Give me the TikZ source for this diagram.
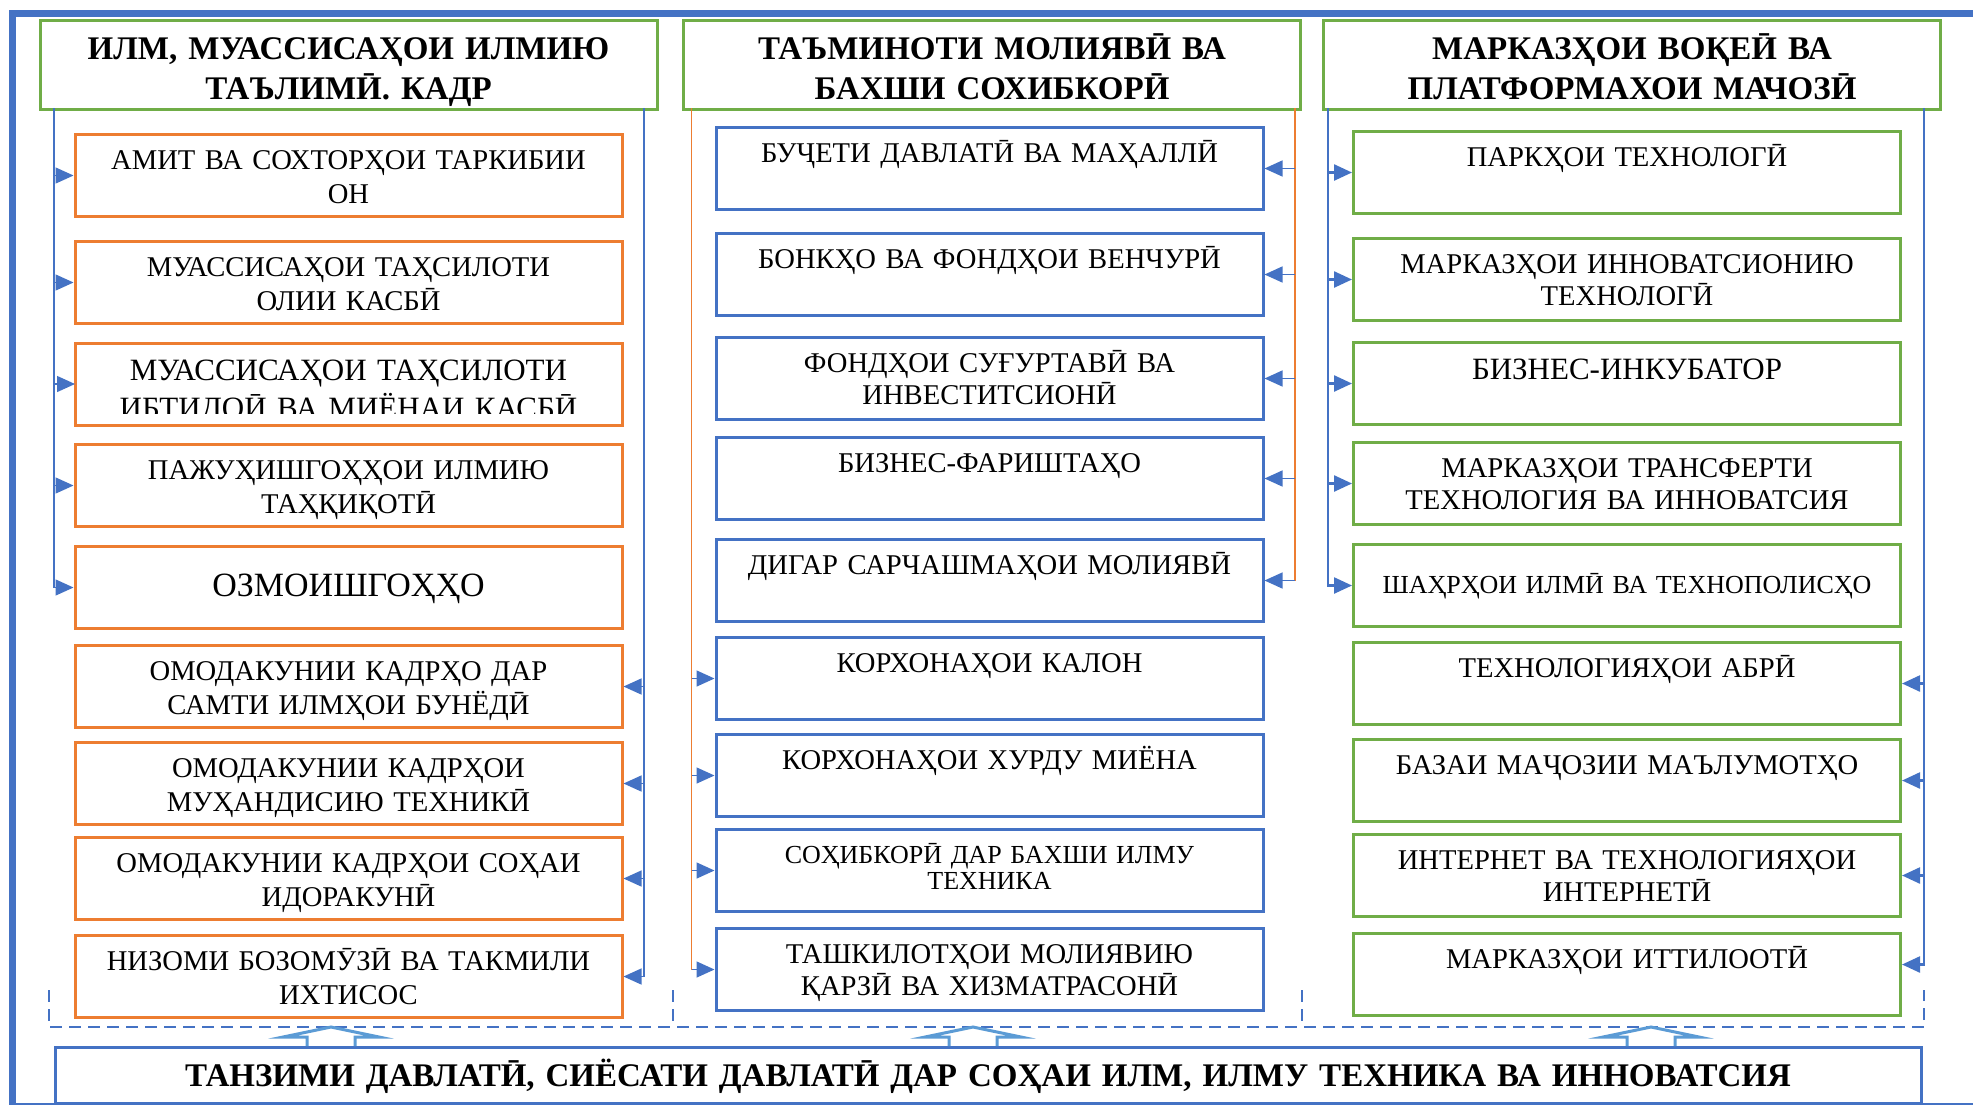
\documentclass[tikz,border=0pt]{standalone}
\usepackage{fontspec}
\setmainfont{Liberation Serif}
\usetikzlibrary{arrows.meta}
\definecolor{cellorange}{HTML}{ED7D31}
\definecolor{cellgreen}{HTML}{70AD47}
\definecolor{cellblue}{HTML}{4472C4}
\definecolor{arrowblue}{HTML}{5B9BD5}
\begin{document}
\begin{tikzpicture}
[x=0.5pt, y=-0.5pt,
cell/.style={draw, line width=1.5pt, text width=273.5pt, align=center, inner sep=0pt, anchor=north, text height=17.5pt, text depth=23.5pt, font=\fontsize{14.3pt}{16pt}\selectfont},
lcell/.style={cell, draw=cellorange, font=\fontsize{14.3pt}{17pt}\selectfont},
mcell/.style={cell, draw=cellblue},
rcell/.style={cell, draw=cellgreen},
head/.style={draw=cellgreen, line width=1.5pt, text width=308.5pt, align=center, inner sep=0pt, anchor=north, text height=19.5pt, text depth=25pt, font=\bfseries\fontsize{16.5pt}{20pt}\selectfont},
thinarr/.style={cellblue, line width=0.7pt, -{Triangle[length=9pt,width=8pt]}},
thickarr/.style={cellblue, line width=1.2pt, -{Triangle[length=9pt,width=8pt]}},
orangebus/.style={cellorange, line width=0.7pt},
dashline/.style={cellblue, line width=0.6pt, dash pattern=on 6pt off 3.5pt},
upblock/.style={arrowblue, line width=1.5pt, line join=miter}]
\useasboundingbox (0,0) rectangle (1973,1104);
\clip (0,0) rectangle (1973,1104);
\fill[white] (0,0) rectangle (1973,1104);
\draw[cellblue, line width=3.5pt] (12.5,13.5) rectangle (2100,1106);

\node[head] (h1) at (348.5,19) {ИЛМ, МУАССИСАҲОИ ИЛМИЮ\\ТАЪЛИМӢ. КАДР};
\node[head] (h2) at (992,19) {ТАЪМИНОТИ МОЛИЯВӢ ВА\\БАХШИ СОХИБКОРӢ};
\node[head] (h3) at (1632,19) {МАРКАЗҲОИ ВОҚЕӢ ВА\\ПЛАТФОРМАХОИ МАЧОЗӢ};

\node[lcell] (l1) at (348.5,133) {АМИТ ВА СОХТОРҲОИ ТАРКИБИИ\\ОН};
\node[lcell] (l2) at (348.5,240) {МУАССИСАҲОИ ТАҲСИЛОТИ\\ОЛИИ КАСБӢ};
\begin{scope}
\clip (60,330) rectangle (640,413);
\node[lcell, draw=none, outer sep=0pt, text height=18.5pt, text depth=22.5pt, font=\fontsize{15.5pt}{19pt}\selectfont] (l3) at (348.5,343) {МУАССИСАҲОИ ТАҲСИЛОТИ\\ИБТИДОӢ ВА МИЁНАИ КАСБӢ};
\end{scope}
\draw[cellorange, line width=1.5pt] (l3.north west) rectangle (l3.south east);
\node[lcell] (l4) at (348.5,443) {ПАЖУҲИШГОҲҲОИ ИЛМИЮ\\ТАҲҚИҚОТӢ};
\node[lcell, text height=25pt, text depth=16pt, font=\fontsize{17pt}{20pt}\selectfont] (l5) at (348.5,545) {ОЗМОИШГОҲҲО};
\node[lcell] (l6) at (348.5,644) {ОМОДАКУНИИ КАДРҲО ДАР\\САМТИ ИЛМҲОИ БУНЁДӢ};
\node[lcell] (l7) at (348.5,741) {ОМОДАКУНИИ КАДРҲОИ\\МУҲАНДИСИЮ ТЕХНИКӢ};
\node[lcell] (l8) at (348.5,836) {ОМОДАКУНИИ КАДРҲОИ СОҲАИ\\ИДОРАКУНӢ};
\node[lcell] (l9) at (348.5,934) {НИЗОМИ БОЗОМӮЗӢ ВА ТАКМИЛИ\\ИХТИСОС};

\node[mcell] (m1) at (989.5,126) {БУҶЕТИ ДАВЛАТӢ ВА МАҲАЛЛӢ};
\node[mcell] (m2) at (989.5,232) {БОНКҲО ВА ФОНДҲОИ ВЕНЧУРӢ};
\node[mcell] (m3) at (989.5,336) {ФОНДҲОИ СУҒУРТАВӢ ВА\\ИНВЕСТИТСИОНӢ};
\node[mcell] (m4) at (989.5,436) {БИЗНЕС-ФАРИШТАҲО};
\node[mcell] (m5) at (989.5,538) {ДИГАР САРЧАШМАҲОИ МОЛИЯВӢ};
\node[mcell] (m6) at (989.5,636) {КОРХОНАҲОИ КАЛОН};
\node[mcell] (m7) at (989.5,733) {КОРХОНАҲОИ ХУРДУ МИЁНА};
\node[mcell, text height=17pt, text depth=24pt, font=\fontsize{13pt}{13pt}\selectfont] (m8) at (989.5,828) {СОҲИБКОРӢ ДАР БАХШИ ИЛМУ\\ТЕХНИКА};
\node[mcell] (m9) at (989.5,927) {ТАШКИЛОТҲОИ МОЛИЯВИЮ\\ҚАРЗӢ ВА ХИЗМАТРАСОНӢ};

\node[rcell] (r1) at (1627,130) {ПАРКҲОИ ТЕХНОЛОГӢ};
\node[rcell] (r2) at (1627,237) {МАРКАЗҲОИ ИННОВАТСИОНИЮ\\ТЕХНОЛОГӢ};
\node[rcell, text height=18.5pt, text depth=22.5pt, font=\fontsize{15.5pt}{18pt}\selectfont] (r3) at (1627,341) {БИЗНЕС-ИНКУБАТОР};
\node[rcell] (r4) at (1627,441) {МАРКАЗҲОИ ТРАНСФЕРТИ\\ТЕХНОЛОГИЯ ВА ИННОВАТСИЯ};
\node[rcell, text height=24.5pt, text depth=16.5pt, font=\fontsize{13pt}{15pt}\selectfont] (r5) at (1627,543) {ШАҲРҲОИ ИЛМӢ ВА ТЕХНОПОЛИСҲО};
\node[rcell] (r6) at (1627,641) {ТЕХНОЛОГИЯҲОИ АБРӢ};
\node[rcell] (r7) at (1627,738) {БАЗАИ МАҶОЗИИ МАЪЛУМОТҲО};
\node[rcell] (r8) at (1627,833) {ИНТЕРНЕТ ВА ТЕХНОЛОГИЯҲОИ\\ИНТЕРНЕТӢ};
\node[rcell] (r9) at (1627,932) {МАРКАЗҲОИ ИТТИЛООТӢ};

\node[draw=cellblue, line width=1.5pt, text width=933pt, align=center, inner sep=0pt, anchor=north, text height=19.5pt, text depth=8.5pt, font=\bfseries\fontsize{16.5pt}{20pt}\selectfont] (base) at (988,1046) {ТАНЗИМИ ДАВЛАТӢ, СИЁСАТИ ДАВЛАТӢ ДАР СОҲАИ ИЛМ, ИЛМУ ТЕХНИКА ВА ИННОВАТСИЯ};

\coordinate (lbusw) at (54,108);
\coordinate (lbuse) at (644,108);
\coordinate (mbusw) at (691.5,108);
\coordinate (mbuse) at (1295,108);
\coordinate (rbusw) at (1328,108);
\coordinate (rbuse) at (1924,108);

\draw[thinarr] (lbusw) |- (l5.west);
\foreach \n in {1,...,4} \draw[thinarr] (l\n.west -| lbusw) -- (l\n.west);
\draw[thinarr] (lbuse) |- (l9.east);
\foreach \n in {6,7,8} \draw[thinarr] (l\n.east -| lbuse) -- (l\n.east);

\draw[orangebus] (mbuse) -- (mbuse |- m5.east);
\foreach \n in {1,...,5} \draw[thinarr] (m\n.east -| mbuse) -- (m\n.east);
\draw[orangebus] (mbusw) -- (mbusw |- m9.west);
\foreach \n in {6,...,9} \draw[thinarr] (m\n.west -| mbusw) -- (m\n.west);

\draw[thickarr] (rbusw) |- (r5.west);
\foreach \n in {1,...,4} \draw[thickarr] (r\n.west -| rbusw) -- (r\n.west);
\draw[thickarr] (rbuse) |- ([yshift=5pt]r9.east);
\foreach \n in {6,7,8} \draw[thickarr] (r\n.east -| rbuse) -- (r\n.east);

\draw[dashline] (49,990) -- (49,1027) -- (1924,1027) -- (1924,990);
\foreach \x in {673,1302} \draw[dashline] (\x,990) -- (\x,1027);

\foreach \c in {331,973,1651}
\draw[upblock] (\c-24,1046) -- (\c-24,1037) -- (\c-48,1037) -- (\c,1027) -- (\c+48,1037) -- (\c+24,1037) -- (\c+24,1046);
\end{tikzpicture}
\end{document}
